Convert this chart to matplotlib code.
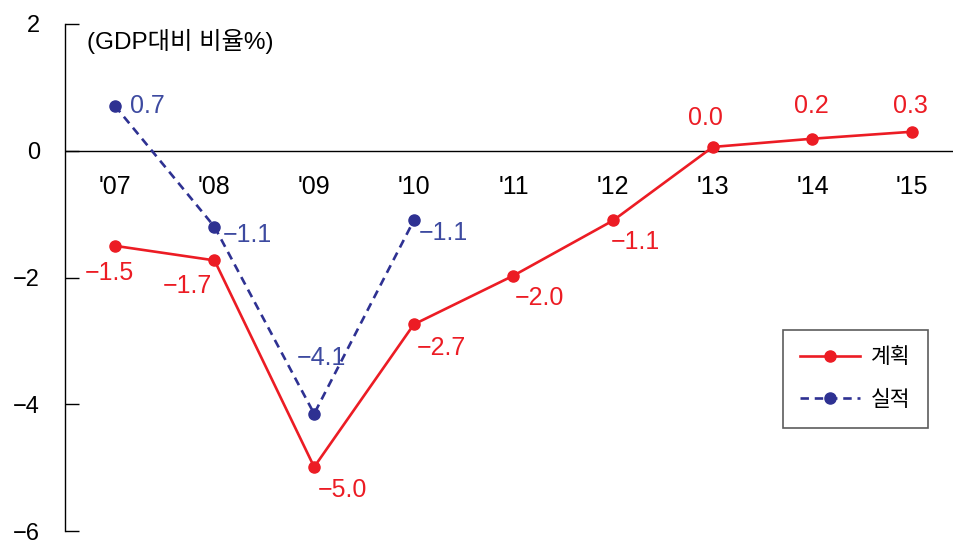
import matplotlib
matplotlib.use("Agg")
import matplotlib.pyplot as plt

plt.rcParams['font.family'] = ['Liberation Sans', 'Noto Sans CJK KR', 'DejaVu Sans']

years = ["'07", "'08", "'09", "'10", "'11", "'12", "'13", "'14", "'15"]
plan_values = [-1.5, -1.73, -4.99, -2.74, -1.97, -1.1, 0.06, 0.19, 0.30]
plan_labels = ["−1.5", "−1.7", "−5.0", "−2.7", "−2.0", "−1.1", "0.0", "0.2", "0.3"]
actual_values = [0.71, -1.2, -4.15, -1.1]
actual_labels = ["0.7", "−1.1", "−4.1", "−1.1"]
yticks = [2, 0, -2, -4, -6]
ytick_labels = ["2", "0", "−2", "−4", "−6"]

RED = '#ec1c24'
BLUE = '#2e3192'
BLUE_TXT = '#3d4aa0'

fig = plt.figure(figsize=(9.54, 5.43), dpi=100)
ax = fig.add_axes([65/954, 1-531/543, 1-65/954, (531-24)/543])

x_plan = list(range(len(plan_values)))
x_act = list(range(len(actual_values)))

ax.plot(x_plan, plan_values, color=RED, lw=1.9, marker='o', ms=8, label='계획', zorder=3)
ax.plot(x_act, actual_values, color=BLUE, lw=1.9, ls=(0, (3.2, 2.2)), marker='o', ms=8,
        label='실적', zorder=3)

ax.axhline(0, color='black', lw=1.0, zorder=1)

ax.set_xlim(-0.5, 8.42)
ax.set_ylim(-6, 2)
ax.set_yticks(yticks)
ax.set_yticklabels(ytick_labels, fontsize=17)
ax.tick_params(axis='y', direction='in', length=10, width=1, pad=18, left=True)
ax.set_xticks([])
for s in ['top', 'right', 'bottom']:
    ax.spines[s].set_visible(False)
ax.spines['left'].set_linewidth(1)

# category labels below zero line
for i, yr in enumerate(years):
    ax.annotate(yr, (i, 0), xytext=(0, -36*0.72), textcoords='offset points',
                ha='center', va='center', fontsize=18, color='black')

px = 0.72
plan_offsets = [(-5, 27), (-27, 26), (28, 23), (28, 24), (26, 22), (22, 22),
                (-7, -29), (-1, -33), (-2, -26)]
for i, (v, lab) in enumerate(zip(plan_values, plan_labels)):
    dx, dy = plan_offsets[i]
    ax.annotate(lab, (i, v), xytext=(dx*px, -dy*px), textcoords='offset points',
                ha='center', va='center', fontsize=18, color=RED)

act_offsets = [(33, 0), (33, 8), (7, -56), (30, 13)]
for i, (v, lab) in enumerate(zip(actual_values, actual_labels)):
    dx, dy = act_offsets[i]
    ax.annotate(lab, (i, v), xytext=(dx*px, -dy*px), textcoords='offset points',
                ha='center', va='center', fontsize=18, color=BLUE_TXT)

fig.text(87/954, 1-41/543, '(GDP대비 비율%)', fontsize=17.5, ha='left', va='center',
         color='black')

leg = ax.legend(loc='upper left', bbox_to_anchor=((783-65)/(954-65), 1-(330-24)/507),
                fontsize=15.5, frameon=True, fancybox=False, edgecolor='#333333',
                handlelength=2.8, borderpad=0.8, labelspacing=1.0, handletextpad=0.5,
                borderaxespad=0)
leg.get_frame().set_linewidth(1.2)

fig.savefig('out.png', dpi=100)
